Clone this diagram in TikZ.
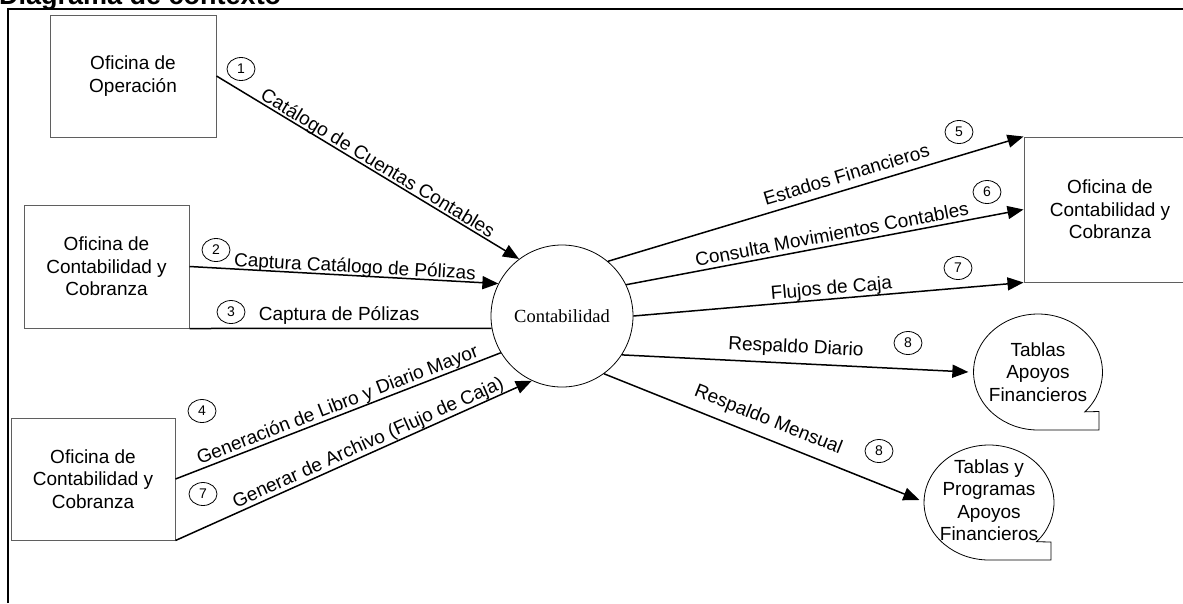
\documentclass[tikz,border=0pt]{standalone}
\usepackage{fontspec}
\setmainfont{Liberation Sans}
\newfontfamily\timesfont{Liberation Serif}
\usetikzlibrary{arrows.meta,shapes.geometric}
\definecolor{boxgray}{RGB}{95,95,95}
\begin{document}
\begin{tikzpicture}[x=1pt,y=1pt,
  txt/.style={font=\fontsize{19}{22.5}\selectfont},
  entity/.style={txt, draw=boxgray, line width=1pt, rectangle, align=center, inner sep=0pt},
  flow/.style={line width=1.5pt, -{Triangle[length=16pt,width=13pt]}},
  plainflow/.style={line width=1.5pt},
  lbl/.style={txt, sloped, anchor=south, text depth=0pt, inner xsep=0pt, inner ysep=#1},
  lbl/.default=3pt,
  num/.style={ellipse, draw, line width=0.8pt, minimum width=28pt, minimum height=23pt, inner sep=0pt, font=\fontsize{14}{14}\selectfont},
  store/.style={txt, ellipse, align=center, inner sep=0pt},
  storeline/.style={line width=0.8pt}
]
\useasboundingbox (0,0) rectangle (1183,-603);
\clip (0,0) rectangle (1183,-603);

% title and page frame
\node[anchor=base west, inner sep=0pt, font=\bfseries\fontsize{27}{30}\selectfont] (title) at (-1,-4.5) {Diagrama de contexto};
\draw[line width=2pt] (8,-603) -- (8,-8.5) -- (1183,-8.5);

% external entities
\node[entity, minimum width=166, minimum height=122] (opera) at (133,-76) {Oficina de\\Operación};
\node[entity, minimum width=165, minimum height=123] (cb1) at (106.5,-266.5) {Oficina de\\Contabilidad y\\Cobranza};
\node[entity, minimum width=164, minimum height=122] (cb2) at (93,-479) {Oficina de\\Contabilidad y\\Cobranza};
\node[entity, minimum width=172, minimum height=145] (cbr) at (1110,-209.5) {Oficina de\\Contabilidad y\\Cobranza};

% process
\node[circle, draw, line width=0.8pt, minimum size=142pt, inner sep=0pt, font=\timesfont\fontsize{18.5}{20}\selectfont] (conta) at (562,-316) {Contabilidad};

% data stores
\node[store, minimum width=129, minimum height=116] (tab1) at (1038,-372) {Tablas\\Apoyos\\Financieros};
\draw[storeline] ([shift={(-43.4:64.5 and 58)}]tab1.center) arc[start angle=-43.4, end angle=270, x radius=64.5, y radius=58] -- ++(61,0) -- ++(0,18.5) -- cycle;
\node[store, minimum width=130, minimum height=115] (tab2) at (989,-500) {Tablas y\\Programas\\Apoyos\\Financieros};
\draw[storeline] ([shift={(-43:65 and 57.5)}]tab2.center) ++(0,-2.5) arc[start angle=-43, end angle=270, x radius=65, y radius=57.5] -- ++(62,0) -- ++(0,18) -- cycle;

% flows
\draw[flow] (opera.east) -- (conta.127) node[lbl=2pt, pos=0.518] {Catálogo de Cuentas Contables};
\draw[flow] (cb1.east) -- (conta.153.4) node[lbl=2pt, pos=0.534] {Captura Catálogo de Pólizas};
\draw[plainflow] (cb1.south east) -- (conta.190.5) node[lbl=7pt, pos=0.495] {Captura de Pólizas};
\draw[plainflow] (cb2.east) -- (conta.211.7) node[lbl=4pt, pos=0.51] {Generación de Libro y Diario Mayor};
\draw[flow] (cb2.south east) -- (conta.245.6) node[lbl=4pt, pos=0.553] {Generar de Archivo (Flujo de Caja)};
\draw[flow] (conta.50.2) -- (cbr.north west) node[lbl=7pt, pos=0.584] {Estados Financieros};
\draw[flow] (conta.26.9) -- (cbr.west) node[lbl=4pt, pos=0.523] {Consulta Movimientos Contables};
\draw[flow] (conta.east) -- (cbr.south west) node[lbl=4pt, pos=0.51] {Flujos de Caja};
\draw[flow] (conta.-33.7) -- (tab1.west) node[lbl=10pt, pos=0.5] {Respaldo Diario};
\draw[flow] (conta.-54.7) -- (tab2.west) node[lbl=12pt, pos=0.5] {Respaldo Mensual};

% flow numbers
\node[num] (n1) at (241,-69) {1};
\node[num] (n2) at (216,-250) {2};
\node[num] (n3) at (231,-312) {3};
\node[num] (n4) at (202,-411) {4};
\node[num] (n7a) at (203,-494) {7};
\node[num] (n5) at (959,-132) {5};
\node[num] (n6) at (987,-192) {6};
\node[num] (n7b) at (958,-268) {7};
\node[num] (n8a) at (908,-343) {8};
\node[num] (n8b) at (879,-451) {8};
\end{tikzpicture}
\end{document}
